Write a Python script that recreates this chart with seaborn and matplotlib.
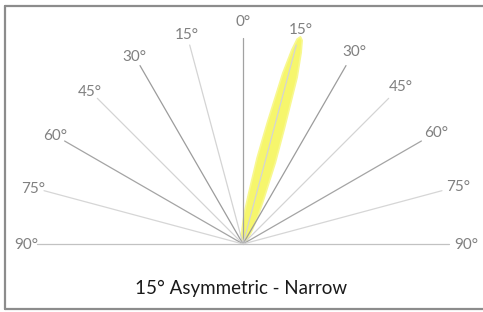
import numpy as np
import pandas as pd
import matplotlib
matplotlib.use("Agg")
import matplotlib.pyplot as plt
from matplotlib.lines import Line2D
import seaborn as sns

# ---- data ----
spoke_angles = [-90, -75, -60, -45, -30, -15, 0, 15, 30, 45, 60, 75, 90]
label_texts = ["90°", "75°", "60°", "45°", "30°", "15°", "0°",
               "15°", "30°", "45°", "60°", "75°", "90°"]
# beam lobe: angle from vertical (deg), relative intensity
lobe_angles = [-15.5, -2.9, 2.4, 6.2, 9.3, 11.3, 13.1, 14.1, 14.8, 15.5,
               16.2, 16.9, 18.0, 19.7, 21.7, 24.8, 28.6, 33.9, 46.5]
lobe_intensity = [0.027, 0.073, 0.143, 0.231, 0.407, 0.573, 0.815, 0.930, 0.986, 1.0,
                  0.986, 0.930, 0.815, 0.573, 0.407, 0.231, 0.143, 0.073, 0.027]
title_text = "15° Asymmetric - Narrow"

# ---- style constants ----
R_SPOKE = 206
R_LOBE = 215
spoke_palette = {0: "#a2a2a2", 15: "#d4d4d4", 30: "#9c9c9c", 45: "#d4d4d4",
                 60: "#a4a4a4", 75: "#d6d6d6", 90: "#c2c2c2"}

sns.set_theme(style="white")
plt.rcParams["font.family"] = ["Lato", "DejaVu Sans"]

fig = plt.figure(figsize=(4.83, 3.12), dpi=100)
ax = fig.add_axes([0, 0, 1, 1])
ax.set_xlim(-243, 240)
ax.set_ylim(-68, 244)
ax.axis("off")

# lobe
la = np.radians([lobe_angles[0]] + lobe_angles + [lobe_angles[-1]])
li = np.array([0.0] + lobe_intensity + [0.0]) * R_LOBE
lobe_df = pd.DataFrame({"x": li * np.sin(la), "y": li * np.cos(la)})
ax.fill(lobe_df["x"], lobe_df["y"], color="#f6f66c", lw=0, zorder=1)
sns.lineplot(data=lobe_df, x="x", y="y", sort=False, estimator=None,
             color="#f8f890", lw=1.2, ax=ax, zorder=1)

# spokes
rows = []
for a in spoke_angles:
    t = np.radians(a)
    for r in (0, R_SPOKE):
        rows.append({"x": r * np.sin(t), "y": r * np.cos(t),
                     "spoke": a, "tier": abs(a)})
spokes = pd.DataFrame(rows)
sns.lineplot(data=spokes, x="x", y="y", hue="tier", units="spoke",
             estimator=None, sort=False, palette=spoke_palette,
             lw=0.9, legend=False, ax=ax, zorder=2)

# labels
for a, txt in zip(spoke_angles, label_texts):
    rl = 217 if a < 0 else 223
    t = np.radians(a)
    ax.text(rl * np.sin(t), rl * np.cos(t) - 1, txt, ha="center", va="center",
            fontsize=11, color="#808080")

ax.text(-2, -44, title_text, ha="center", va="center", fontsize=13.5,
        color="#1a1a1a")

# frame
W, H = 483, 312
fc = "#8c8c8c"
fig.add_artist(Line2D([5 / W, 5 / W], [3 / H, 306 / H], color=fc, lw=1.6))
fig.add_artist(Line2D([5 / W, 1], [306 / H, 306 / H], color=fc, lw=1.6))
fig.add_artist(Line2D([5 / W, 1], [3 / H, 3 / H], color=fc, lw=1.6))

fig.savefig("out.png", dpi=100)
